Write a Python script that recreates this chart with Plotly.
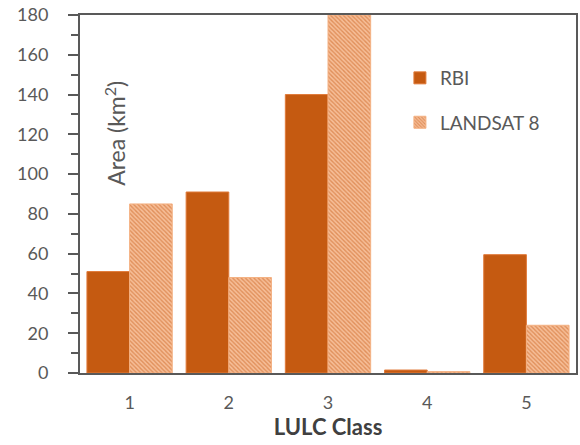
import plotly.graph_objects as go

categories = ["1", "2", "3", "4", "5"]
rbi = [51, 91, 140, 1.5, 59.5]
landsat = [85, 48, 180, 0.7, 24]
y_ticks = [0, 20, 40, 60, 80, 100, 120, 140, 160, 180]

dark = "#C55A11"
grey = "#595959"
FONT = "Lato"

fig = go.Figure()
fig.add_trace(go.Bar(
    x=categories, y=rbi, name="RBI",
    marker=dict(color=dark, line=dict(color="#E07A3A", width=1)),
    legend="legend", showlegend=True,
))
fig.add_trace(go.Bar(
    x=categories, y=landsat, name="LANDSAT 8",
    marker=dict(color="#F4B183", line=dict(color="#F4B183", width=1),
                pattern=dict(shape="\\", fgcolor="#C9601C", bgcolor="#F6BE98",
                             size=3, solidity=0.45)),
    legend="legend2", showlegend=True,
))

fig.update_layout(
    width=580, height=445,
    margin=dict(l=80, r=2, t=15, b=72),
    paper_bgcolor="white", plot_bgcolor="white",
    showlegend=True,
    barmode="group", bargap=0.14, bargroupgap=0.0,
    font=dict(family=FONT, color=grey, size=18),
    legend=dict(x=0.645, y=0.824, xanchor="left", yanchor="middle",
                bgcolor="rgba(0,0,0,0)", font=dict(size=19, color=grey)),
    legend2=dict(x=0.645, y=0.70, xanchor="left", yanchor="middle",
                 bgcolor="rgba(0,0,0,0)", font=dict(size=19, color=grey)),
    xaxis=dict(
        showline=True, linecolor=grey, linewidth=2, mirror=True,
        ticks="", tickfont=dict(size=18, color=grey),
        ticklabelstandoff=12,
        title=dict(text="<b>LULC Class</b>", font=dict(size=22, color="#404040", family=FONT), standoff=4),
        showgrid=False,
    ),
    yaxis=dict(
        range=[0, 180], tickvals=y_ticks,
        showline=True, linecolor=grey, linewidth=2, mirror=True,
        ticks="outside", ticklen=10, tickcolor=grey, tickwidth=1.5,
        ticklabelstandoff=16,
        minor=dict(ticks="outside", ticklen=7, dtick=10, tickcolor=grey, tickwidth=1.5),
        tickfont=dict(size=18, color=grey),
        showgrid=False, zeroline=False,
    ),
)

fig.add_annotation(
    text="Area (km<sup>2</sup>)", xref="paper", yref="paper",
    x=0.07, y=0.67, xanchor="center", yanchor="middle",
    textangle=-90, showarrow=False,
    font=dict(size=23, color=grey, family=FONT),
)

fig.write_html("out.html", config={"displayModeBar": False},
               post_script="document.body.style.margin='0';")
